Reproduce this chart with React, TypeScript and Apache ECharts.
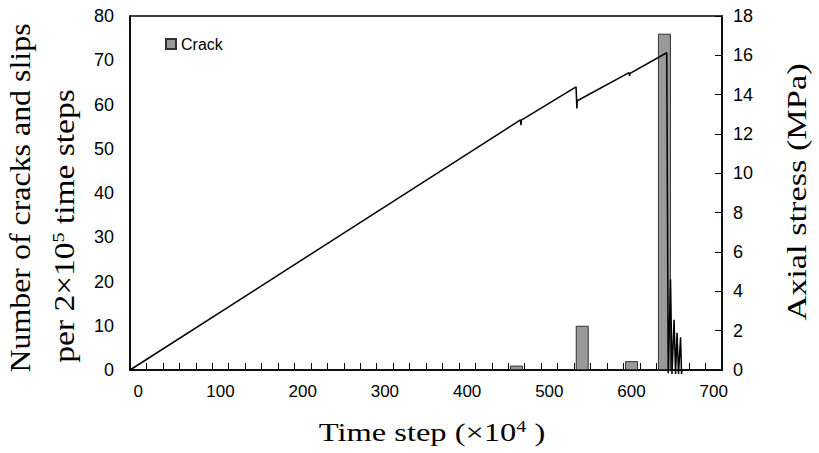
import React, { useEffect, useRef } from "react";
import * as echarts from "echarts";

// Crack counts per 2x10^5 time steps (bar centres in units of 10^4 time steps)
const crackTime = [460, 540, 600, 640];
const crackCount = [1, 10, 2, 76];

// Axial stress curve (time in 10^4 steps, stress in MPa)
const stressTime = [-10, 465, 465.5, 466, 532.5, 533.5, 534, 597, 597.6, 598.2, 642.8, 644.6, 647.4, 649.2, 651.7, 653.5, 655.3, 657.1, 659.6, 660.8, 661.4];
const stressValue = [0, 12.72, 12.45, 12.7, 14.4, 13.3, 13.69, 15.12, 14.95, 15.08, 16.13, -0.17, 4.6, -0.2, 2.55, -0.2, 1.89, -0.2, 1.66, -0.2, 0];

// Axis tick labels / tick marks
const xLabelValues = [0, 100, 200, 300, 400, 500, 600, 700];
const xTickValues = [10, 30, 50, 70, 90, 110, 130, 150, 170, 190, 210, 230, 250, 270, 290, 310, 330, 350, 370, 390, 410, 430, 450, 470, 490, 510, 530, 550, 570, 590, 610, 630, 650, 670, 690];

const SANS = "Liberation Sans, Arial, sans-serif";
const SERIF = "Liberation Serif, Times New Roman, serif";

export default function App() {
  const ref = useRef<HTMLDivElement>(null);
  useEffect(() => {
    if (!ref.current) return;
    const chart = echarts.init(ref.current, null, { renderer: "svg" });
    const axisLine = { show: true, onZero: false, lineStyle: { color: "#000", width: 1.5 } };
    const labelStyle = { color: "#000", fontFamily: SANS, fontSize: 18 };
    chart.setOption({
      animation: false,
      backgroundColor: "#fff",
      grid: { left: 130, right: 97, top: 16, bottom: 83, show: true, borderColor: "#000", borderWidth: 1.5, backgroundColor: "transparent" },
      legend: {
        data: ["Crack"], left: 160, top: 31, icon: "rect", itemWidth: 10, itemHeight: 10, itemGap: 4,
        textStyle: { color: "#000", fontFamily: SANS, fontSize: 16 },
      },
      xAxis: {
        type: "value", min: -10, max: 710,
        axisLine,
        axisTick: { show: true, inside: true, length: 7, customValues: xTickValues, lineStyle: { color: "#000", width: 1 } },
        axisLabel: { ...labelStyle, fontSize: 17, margin: 13, customValues: xLabelValues },
        splitLine: { show: false },
      },
      yAxis: [
        {
          type: "value", min: 0, max: 80, interval: 10, position: "left",
          axisLine, axisTick: { show: false },
          axisLabel: { ...labelStyle, margin: 16 },
          splitLine: { show: false },
        },
        {
          type: "value", min: 0, max: 18, interval: 2, position: "right",
          axisLine, axisTick: { show: true, inside: true, length: 7, lineStyle: { color: "#000", width: 1 } },
          axisLabel: { ...labelStyle, margin: 11 },
          splitLine: { show: false },
        },
      ],
      series: [
        {
          name: "Crack", type: "bar", yAxisIndex: 0, barWidth: 13,
          data: crackTime.map((t, i) => [t, crackCount[i]]),
          itemStyle: { color: "#999999", borderColor: "#333", borderWidth: 1 },
        },
        {
          name: "Axial stress", type: "line", yAxisIndex: 1, symbol: "none", clip: false, z: 5,
          data: stressTime.map((t, i) => [t, stressValue[i]]),
          lineStyle: { color: "#000", width: 1.5 },
        },
      ],
      graphic: [
        {
          type: "text", x: 21, y: 198, rotation: Math.PI / 2, scaleX: 1.12,
          style: { text: "Number of cracks and slips", fontFamily: SERIF, fontSize: 28.5, fill: "#000", align: "center", verticalAlign: "middle" },
        },
        {
          type: "text", x: 64, y: 226, rotation: Math.PI / 2, scaleX: 1.175,
          style: {
            text: "{a|per 2×10}{s|5}{a| time steps}", align: "center", verticalAlign: "middle", fill: "#000",
            rich: { a: { fontFamily: SERIF, fontSize: 28.5, fill: "#000" }, s: { fontFamily: SERIF, fontSize: 17, fill: "#000", verticalAlign: "top" } },
          },
        },
        {
          type: "text", x: 797, y: 192, rotation: Math.PI / 2, scaleX: 1.27,
          style: { text: "Axial stress (MPa)", fontFamily: SERIF, fontSize: 27, fill: "#000", align: "center", verticalAlign: "middle" },
        },
        {
          type: "text", x: 432, y: 432, scaleX: 1.25,
          style: {
            text: "{a|Time step (×10}{s|4}{a| )}", align: "center", verticalAlign: "middle", fill: "#000",
            rich: { a: { fontFamily: SERIF, fontSize: 26, fill: "#000" }, s: { fontFamily: SERIF, fontSize: 16, fill: "#000", verticalAlign: "top" } },
          },
        },
      ],
    });
    return () => chart.dispose();
  }, []);
  return <div ref={ref} style={{ width: 819, height: 453, position: "absolute", left: 0, top: 0 }} />;
}
